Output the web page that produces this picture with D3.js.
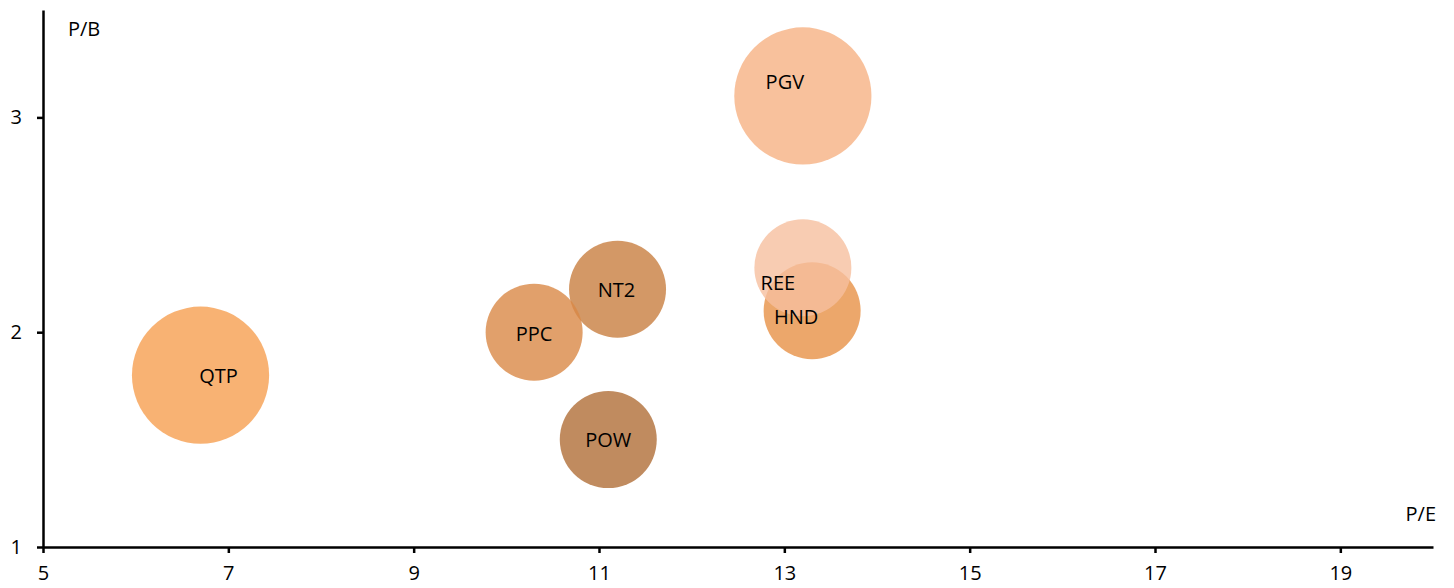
<!DOCTYPE html>
<html>
<head>
<meta charset="utf-8">
<script src="https://cdn.jsdelivr.net/npm/d3@7"></script>
<style>
  html, body { margin: 0; padding: 0; background: #fff; }
  svg { display: block; font-family: "Open Sans", "Noto Sans", sans-serif; }
</style>
</head>
<body>
<svg id="chart" width="1454" height="588"></svg>
<script>
// Valuation bubbles: P/E on x, P/B on y, bubble area by size weight
const tickers = ["QTP", "PGV", "HND", "REE", "NT2", "PPC", "POW"];
const peValues = [6.7, 13.2, 13.3, 13.2, 11.2, 10.3, 11.1];
const pbValues = [1.8, 3.1, 2.1, 2.3, 2.2, 2.0, 1.5];
const sizeValues = [2, 2, 1, 1, 1, 1, 1];
const xTicks = [5, 7, 9, 11, 13, 15, 17, 19];
const yTicks = [1, 2, 3];

// Fill colours per bubble (drawn at 80% opacity)
const fills = ["#F69F50", "#F6B283", "#E79146", "#F6BF9F", "#C87E40", "#D98846", "#B06E37"];
// Label nudges (px) relative to bubble centre
const labelNudge = [[18, 0], [-18, -14], [-16, 6], [-25, 15], [-1, 0], [0, 1], [0, 0]];

const width = 1454, height = 588;
const margin = { top: 10, right: 21, bottom: 41, left: 43 };
const fontSize = 20;

const svg = d3.select("#chart");

const x = d3.scaleLinear().domain([5, 20]).range([margin.left, width - margin.right]);
const y = d3.scaleLinear().domain([1, 3.5]).range([height - margin.bottom, margin.top]);
const r = d3.scaleSqrt().domain([0, 1]).range([0, 48.5]);

const data = tickers.map((t, i) => ({
  name: t, pe: peValues[i], pb: pbValues[i], size: sizeValues[i],
  fill: fills[i], dx: labelNudge[i][0], dy: labelNudge[i][1]
}));

// Bubbles
svg.append("g")
  .selectAll("circle")
  .data(data)
  .join("circle")
  .attr("cx", d => x(d.pe))
  .attr("cy", d => y(d.pb))
  .attr("r", d => r(d.size))
  .attr("fill", d => d.fill)
  .attr("fill-opacity", 0.8);

// Bubble labels
svg.append("g")
  .selectAll("text")
  .data(data)
  .join("text")
  .attr("x", d => x(d.pe) + d.dx)
  .attr("y", d => y(d.pb) + d.dy)
  .attr("text-anchor", "middle")
  .attr("dominant-baseline", "central")
  .attr("font-size", fontSize)
  .attr("fill", "#000")
  .text(d => d.name);

// Axes
const xAxis = svg.append("g")
  .attr("transform", `translate(0,${y(1)})`)
  .call(d3.axisBottom(x).tickValues(xTicks).tickFormat(d3.format("d"))
    .tickSize(6).tickPadding(13).tickSizeOuter(0));
const yAxis = svg.append("g")
  .attr("transform", `translate(${x(5)},0)`)
  .call(d3.axisLeft(y).tickValues(yTicks).tickFormat(d3.format("d"))
    .tickSize(6).tickPadding(15).tickSizeOuter(0));

[xAxis, yAxis].forEach(g => {
  g.select(".domain").attr("stroke", "#000").attr("stroke-width", 2.5);
  g.selectAll(".tick line").attr("stroke", "#000").attr("stroke-width", 2.5);
  g.selectAll(".tick text").attr("font-size", fontSize).attr("fill", "#000")
    .attr("font-family", "'Open Sans', 'Noto Sans', sans-serif");
});

// Axis titles
svg.append("text")
  .attr("x", 68).attr("y", 28)
  .attr("dominant-baseline", "central")
  .attr("font-size", fontSize)
  .text("P/B");
svg.append("text")
  .attr("x", 1436).attr("y", 513)
  .attr("text-anchor", "end")
  .attr("dominant-baseline", "central")
  .attr("font-size", fontSize)
  .text("P/E");
</script>
</body>
</html>
